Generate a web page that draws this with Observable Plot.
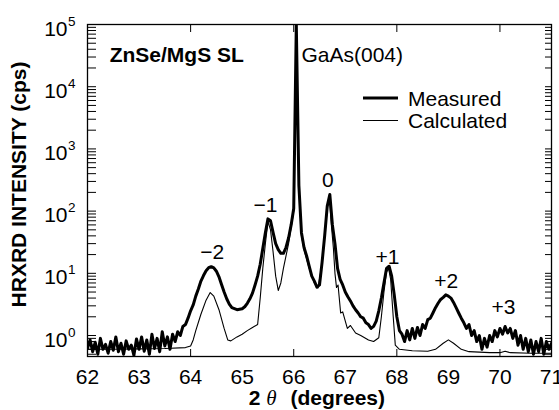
<!DOCTYPE html>
<html><head><meta charset="utf-8">
<script src="https://cdn.jsdelivr.net/npm/d3@7"></script>
<script src="https://cdn.jsdelivr.net/npm/@observablehq/plot@0.6"></script>
<style>
body{margin:0;background:#fff;}
#chart svg{font-family:"Liberation Sans",Arial,Helvetica,sans-serif;}
</style></head><body><div id="chart"></div>
<script>
// Measured scan, sampled every 0.05 deg starting at 62.00
const measuredStart = 62, measuredStep = 0.05;
const measuredIntensity = [
  0.62,0.85,0.55,0.78,0.5,0.9,0.6,0.72,0.52,0.8, 0.58,0.95,0.55,0.75,0.5,0.82,0.6,0.7,0.48,0.88,
  0.6,0.95,0.56,0.85,0.5,1.05,0.62,0.9,0.55,1.15, 0.68,0.95,0.6,1.05,0.8,1.15,1.0,1.4,1.5,1.9,
  2.5,3.1,4.3,5.6,7.5,9.2,11,12.3,12.8,12.2, 10.8,8.8,6.6,5.0,3.9,3.2,2.8,2.7,2.6,2.65,
  2.7,2.9,3.3,3.9,4.8,6.5,9,14,25,45, 75,70,45,30,24,21,21,26,37,60,
  110,100000,260,45,26,19,13,9,7.5,6, 6.5,15,40,120,185,60,30,12,8,6.5,
  5,4.2,3.6,3.0,2.6,2.3,2.0,1.9,1.6,1.5, 1.3,1.4,1.7,2.5,4,7,12,13,9,4.5,
  2,1.2,1.05,0.8,1.2,0.85,1.3,0.9,1.35,1.0, 1.5,1.3,1.8,1.9,2.3,2.8,3.3,3.8,4.1,4.5,
  4.3,4.0,3.4,2.8,2.3,1.9,1.6,1.3,1.5,1.0, 1.2,0.8,1.0,0.6,0.9,0.65,1.0,0.8,1.2,0.95,
  1.3,1.05,1.4,1.1,1.3,0.9,1.2,0.7,1.0,0.6, 0.9,0.55,0.85,0.5,0.8,0.55,0.9,0.5,0.8,0.6,
  0.75
];
// Calculated curve
const calcTheta = [62.0,62.5,63.0,63.5,63.9,64.0,64.05,64.1,64.2,64.3,64.38,64.45,64.55,64.65,64.72,64.78,64.9,65.0,65.1,65.2,65.3,
  65.35,65.4,65.45,65.5,65.55,65.6,65.65,65.7,65.75,65.8,65.9,66.0,66.05,66.1,66.15,66.2,66.3,66.4,66.47,66.55,66.6,66.65,66.69,
  66.73,66.77,66.8,66.83,66.86,66.91,66.95,67.04,67.1,67.2,67.3,67.45,67.55,67.65,67.7,67.75,67.8,67.84,67.88,67.93,67.97,
  68.05,68.3,68.6,68.75,68.9,69.0,69.1,69.25,69.4,69.8,70.0,70.1,70.2,70.6,71.0];
const calcIntensity = [0.6,0.6,0.61,0.62,0.64,0.68,0.85,1.2,2.2,3.7,4.9,4.3,2.6,1.3,0.85,0.82,0.95,1.05,1.2,1.35,1.5,
  4,12,30,68,50,22,9,5.3,7,12,30,100,100000,240,40,24,12,7,5.8,14,38,110,175,
  60,25,10,5.9,6.5,2.3,2.4,1.3,1.45,1.1,1.0,0.85,0.8,0.92,2,5,10.5,12,8,2,0.7,
  0.6,0.57,0.56,0.6,0.75,0.85,0.75,0.6,0.55,0.53,0.53,0.56,0.53,0.52,0.52];

const xTicks = [62,63,64,65,66,67,68,69,70,71];
const yTicks = [1,10,100,1000,10000,100000];
const yTickExponents = ["0","1","2","3","4","5"];

const peakLabels = ["\u22122","\u22121","0","+1","+2","+3"];
const peakTheta = [64.42,65.45,66.66,67.82,68.96,70.07];
const peakLabelIntensity = [21.6,123,310,18,7.4,2.8];

const sampleLabel = "ZnSe/MgS SL", sampleTheta = 62.43, sampleIntensity = 32000;
const substrateLabel = "GaAs(004)", substrateTheta = 66.15, substrateIntensity = 32000;

const seriesNames = ["Measured","Calculated"];

const measured = measuredIntensity.map((v,i)=>({theta:+(measuredStart+i*measuredStep).toFixed(2), v}));
const calculated = calcTheta.map((t,i)=>({theta:t, v:calcIntensity[i]}));
const peaks = peakLabels.map((t,i)=>({t, x:peakTheta[i], y:peakLabelIntensity[i]}));

const FS = 21;
const chart = Plot.plot({
  width:559, height:410, marginLeft:87, marginRight:8, marginTop:24, marginBottom:54,
  style:{fontFamily:'"Liberation Sans",Arial,Helvetica,sans-serif', fontSize:"21px", background:"white", color:"black"},
  x:{domain:[62,71], ticks:xTicks, label:null},
  y:{type:"log", domain:[0.46,1e5], ticks:yTicks, label:null},
  marks:[
    Plot.line(calculated, {x:"theta", y:"v", stroke:"black", strokeWidth:1.1, clip:true}),
    Plot.line(measured, {x:"theta", y:"v", stroke:"black", strokeWidth:3, clip:true}),
    Plot.frame({stroke:"black", strokeWidth:1.3}),
    Plot.axisX({anchor:"bottom", tickSize:-7, tickFormat:()=>"", label:null}),
    Plot.axisX({anchor:"top", tickSize:-7, tickFormat:()=>"", label:null}),
    Plot.axisY({anchor:"left", tickSize:-9, tickFormat:()=>"", label:null}),
    Plot.axisY({anchor:"right", tickSize:-7, tickFormat:()=>"", label:null}),
    Plot.text(xTicks, {x:d=>d, frameAnchor:"bottom", dy:20.5, text:d=>String(d), fontSize:FS, textAnchor:"middle", lineAnchor:"middle"}),
    Plot.text(yTicks, {y:d=>d, frameAnchor:"left", dx:-20, dy:4.3, text:()=>"10", fontSize:FS, textAnchor:"end", lineAnchor:"middle"}),
    Plot.text(yTicks, {y:d=>d, frameAnchor:"left", dx:-19.5, dy:-3.2, text:(d,i)=>yTickExponents[i], fontSize:13.5, textAnchor:"start", lineAnchor:"middle"}),
    Plot.text(peaks, {x:"x", y:"y", text:"t", fontSize:FS, textAnchor:"middle", lineAnchor:"middle"}),
    Plot.text([sampleLabel], {x:()=>sampleTheta, y:()=>sampleIntensity, fontSize:FS, fontWeight:"bold", textAnchor:"start", lineAnchor:"middle"}),
    Plot.text([substrateLabel], {x:()=>substrateTheta, y:()=>substrateIntensity, fontSize:FS, textAnchor:"start", lineAnchor:"middle"}),
    Plot.text(["HRXRD INTENSITY (cps)"], {frameAnchor:"left", dx:-68, dy:-6, rotate:-90, fontSize:FS, fontWeight:"bold", textAnchor:"middle", lineAnchor:"middle"}),
    Plot.text(["2"], {frameAnchor:"bottom", dx:-65, dy:42, fontSize:FS, fontWeight:"bold", textAnchor:"middle", lineAnchor:"middle"}),
    Plot.text(["\u03b8"], {frameAnchor:"bottom", dx:-48, dy:42, fontSize:FS, fontStyle:"italic", fontFamily:'"Liberation Serif",serif', textAnchor:"middle", lineAnchor:"middle"}),
    Plot.text(["(degrees)"], {frameAnchor:"bottom", dx:-29, dy:42, fontSize:FS, fontWeight:"bold", textAnchor:"start", lineAnchor:"middle"})
  ]
});
document.getElementById("chart").appendChild(chart);

// Legend (inside the frame, upper right)
const svg = d3.select(chart);
const lg = svg.append("g").attr("font-size", FS).attr("fill", "black").attr("text-anchor", "start");
const swatchWidths = [3, 1.1];
const rows = [98, 120.5];
seriesNames.forEach((name, i) => {
  lg.append("line").attr("x1", 363).attr("x2", 398).attr("y1", rows[i]).attr("y2", rows[i])
    .attr("stroke", "black").attr("stroke-width", swatchWidths[i]);
  lg.append("text").attr("x", 408).attr("y", rows[i]).attr("dy", "0.36em").attr("text-anchor", "start").text(name);
});
</script></body></html>
